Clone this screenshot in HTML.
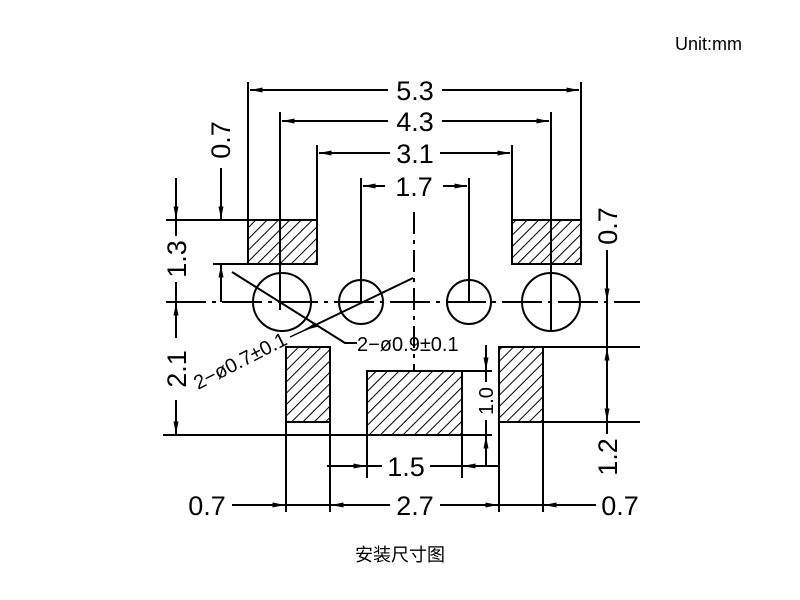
<!DOCTYPE html>
<html><head><meta charset="utf-8"><style>
html,body{margin:0;padding:0;background:#fff;width:800px;height:600px;overflow:hidden}
svg{display:block}
text{font-family:"Liberation Sans","DejaVu Sans",sans-serif;fill:#000}
</style></head><body>
<svg width="800" height="600" viewBox="0 0 800 600" xmlns="http://www.w3.org/2000/svg">
<defs>
<pattern id="h" patternUnits="userSpaceOnUse" width="8" height="8" patternTransform="rotate(45)">
<line x1="0" y1="0" x2="0" y2="8" stroke="#000" stroke-width="2"/>
</pattern>
<marker id="a" viewBox="0 0 10 4" refX="10" refY="2" markerWidth="14" markerHeight="5" orient="auto-start-reverse" markerUnits="userSpaceOnUse">
<path d="M0,0 L10,2 L0,4 Z" fill="#000"/>
</marker>
</defs>
<g stroke="#000" stroke-width="2" fill="none">
<rect x="248" y="220" width="69" height="44" fill="url(#h)"/>
<rect x="512" y="220" width="69" height="44" fill="url(#h)"/>
<rect x="286" y="347" width="44" height="75" fill="url(#h)"/>
<rect x="367" y="371" width="95" height="64" fill="url(#h)"/>
<rect x="499" y="347" width="44" height="75" fill="url(#h)"/>
<circle cx="282" cy="302" r="29"/>
<circle cx="361" cy="302" r="22"/>
<circle cx="469" cy="302" r="22"/>
<circle cx="551" cy="302" r="29"/>
<path d="M166 302H640" stroke-dasharray="40 6 4 6"/>
<path d="M414 212V370" stroke-dasharray="22 6 4 6"/>
<path d="M248 82V220M581 82V220M280 112V310M551 112V330M317 145V220M512 145V220M361 178V302M469 178V302"/>
<path d="M286 422V512M330 422V512M367 435V478M462 435V478M499 422V512M543 422V512"/>
<path d="M163 435H367M462 435H492"/>
<path d="M166 220H248M213 264H248"/>
<path d="M543 347H640M543 422H640M462 371H492"/>
</g>
<g stroke="#000" stroke-width="2" fill="none">
<path d="M250 90H388M442 90H579" marker-start="url(#a)" marker-end="url(#a)"/>
<path d="M282 121H388M442 121H549" marker-start="url(#a)" marker-end="url(#a)"/>
<path d="M319 153H390M440 153H510" marker-start="url(#a)" marker-end="url(#a)"/>
<path d="M363 186H385M443 186H467" marker-start="url(#a)" marker-end="url(#a)"/>
<path d="M221 168V219" marker-end="url(#a)"/>
<path d="M221 302V265" marker-end="url(#a)"/>
<path d="M176 178V219" marker-end="url(#a)"/>
<path d="M176 220V236M176 282V302"/>
<path d="M176 338V303" marker-end="url(#a)"/>
<path d="M176 400V434" marker-end="url(#a)"/>
<path d="M607 250V301" marker-end="url(#a)"/>
<path d="M607 302V347"/>
<path d="M607 380V348" marker-end="url(#a)"/>
<path d="M607 380V421" marker-end="url(#a)"/>
<path d="M607 422V434"/>
<path d="M486 345V370" marker-end="url(#a)"/>
<path d="M486 371V382M486 420V435"/>
<path d="M486 465V436" marker-end="url(#a)"/>
<path d="M327 466H366" marker-end="url(#a)"/>
<path d="M367 466H382M430 466H462"/>
<path d="M500 466H463" marker-end="url(#a)"/>
<path d="M232 505H285" marker-end="url(#a)"/>
<path d="M286 505H330"/>
<path d="M390 505H331" marker-end="url(#a)"/>
<path d="M440 505H498" marker-end="url(#a)"/>
<path d="M499 505H543"/>
<path d="M596 505H544" marker-end="url(#a)"/>
<path d="M232 272L345 343H357"/>
<path d="M413 278L305 330" marker-end="url(#a)"/>
<path d="M305 330L290 337" stroke-width="1.5"/>
</g>
<g font-size="27">
<text x="415" y="100" text-anchor="middle">5.3</text>
<text x="415" y="131" text-anchor="middle">4.3</text>
<text x="415" y="163" text-anchor="middle">3.1</text>
<text x="414" y="196" text-anchor="middle">1.7</text>
<text x="406" y="476" text-anchor="middle">1.5</text>
<text x="415" y="515" text-anchor="middle">2.7</text>
<text x="207" y="515" text-anchor="middle">0.7</text>
<text x="620" y="515" text-anchor="middle">0.7</text>
<text transform="translate(230,140) rotate(-90)" text-anchor="middle">0.7</text>
<text transform="translate(186,259) rotate(-90)" text-anchor="middle">1.3</text>
<text transform="translate(186,369) rotate(-90)" text-anchor="middle">2.1</text>
<text transform="translate(617,226) rotate(-90)" text-anchor="middle">0.7</text>
<text transform="translate(617,457) rotate(-90)" text-anchor="middle">1.2</text>
</g>
<text transform="translate(493,401) rotate(-90)" text-anchor="middle" font-size="20">1.0</text>
<text x="357" y="351" font-size="20">2−ø0.9±0.1</text>
<text transform="translate(198,390) rotate(-27)" font-size="20">2−ø0.7±0.1</text>
<text x="675" y="50" font-size="18">Unit:mm</text>
<text x="400" y="561" text-anchor="middle" font-size="18" style='font-family:"Liberation Sans","Noto Sans CJK SC",sans-serif'>安装尺寸图</text>
</svg>
</body></html>
